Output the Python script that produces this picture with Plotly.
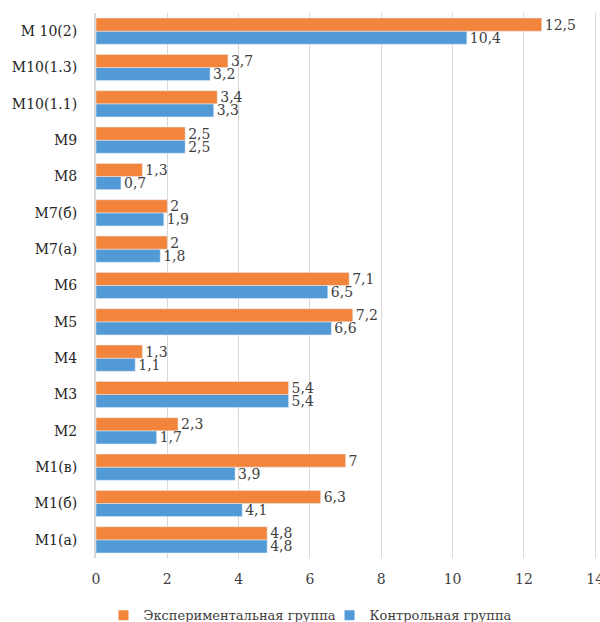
import plotly.graph_objects as go

categories = ["М1(а)", "М1(б)", "М1(в)", "М2", "М3", "М4", "М5", "М6",
              "М7(а)", "М7(б)", "М8", "М9", "М10(1.1)", "М10(1.3)", "М 10(2)"]
experimental = [4.8, 6.3, 7, 2.3, 5.4, 1.3, 7.2, 7.1, 2, 2, 1.3, 2.5, 3.4, 3.7, 12.5]
control = [4.8, 4.1, 3.9, 1.7, 5.4, 1.1, 6.6, 6.5, 1.8, 1.9, 0.7, 2.5, 3.3, 3.2, 10.4]
x_ticks = [0, 2, 4, 6, 8, 10, 12, 14]

ORANGE = "#F2843C"
BLUE = "#519AD6"

def fmt(v):
    return ("%g" % v).replace(".", ",")

FONT = "DejaVu Serif"
fig = go.Figure()
fig.add_trace(go.Bar(
    y=categories, x=control, orientation="h", name="Контрольная группа",
    marker=dict(color=BLUE), text=[fmt(v) for v in control],
    textposition="outside", cliponaxis=False, constraintext="none", showlegend=False,
    textfont=dict(family=FONT, size=14, color="#404040"),
))
fig.add_trace(go.Bar(
    y=categories, x=experimental, orientation="h", name="Экспериментальная группа",
    marker=dict(color=ORANGE), text=[fmt(v) for v in experimental],
    textposition="outside", cliponaxis=False, constraintext="none", showlegend=False,
    textfont=dict(family=FONT, size=14, color="#404040"),
))
# legend entries
fig.add_trace(go.Scatter(x=[None], y=[None], mode="markers", name="Экспериментальная группа",
                         marker=dict(symbol="square", size=10, color=ORANGE), legendrank=1))
fig.add_trace(go.Scatter(x=[None], y=[None], mode="markers", name="Контрольная группа",
                         marker=dict(symbol="square", size=10, color=BLUE), legendrank=2))

fig.update_layout(
    width=600, height=622,
    margin=dict(l=96, r=3, t=13, b=64, autoexpand=False),
    barmode="group", bargap=0.28, bargroupgap=0,
    plot_bgcolor="white", paper_bgcolor="white",
    font=dict(family=FONT, size=14, color="#404040"),
    xaxis=dict(range=[0, 14.05], tickvals=x_ticks, showgrid=True, gridcolor="#D9D9D9",
               gridwidth=1, zeroline=False, ticks="outside", ticklen=8, automargin=False,
               ticklabeloverflow="allow",
               tickcolor="rgba(0,0,0,0)", tickfont=dict(family=FONT, size=14)),
    yaxis=dict(showline=True, linecolor="#D9D9D9", linewidth=2, ticks="outside",
               ticklen=14, tickcolor="rgba(0,0,0,0)", automargin=False,
               tickfont=dict(family=FONT, size=14, color="#262626")),
    legend=dict(orientation="h", x=0.015, xanchor="left", y=-0.105, yanchor="middle",
                font=dict(family=FONT, size=13, color="#404040"), entrywidth=181,
                entrywidthmode="pixels", itemwidth=30),
    showlegend=True,
)
fig.write_html("out.html")
